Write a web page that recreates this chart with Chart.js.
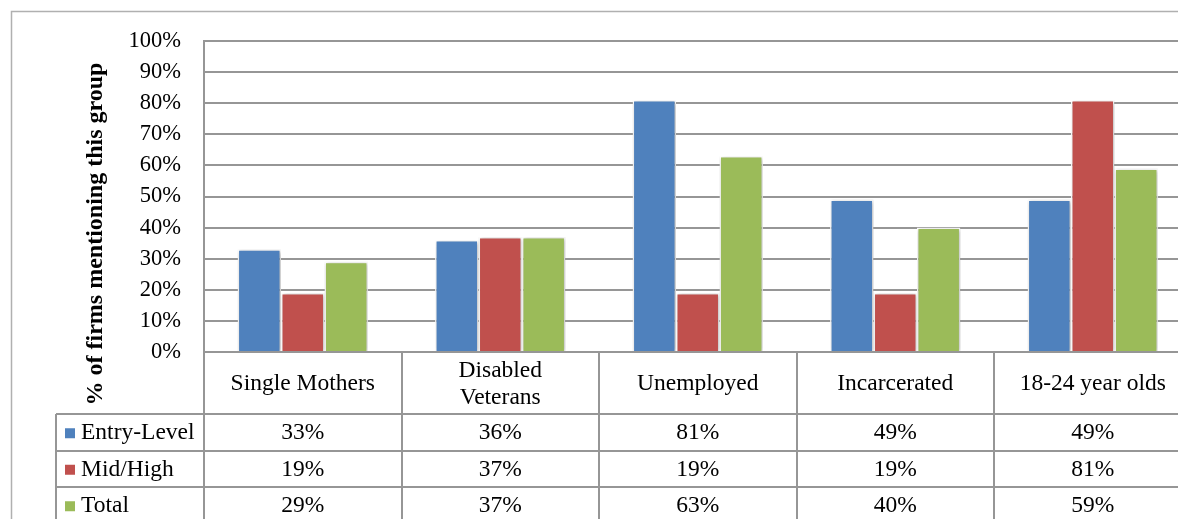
<!DOCTYPE html>
<html>
<head>
<meta charset="utf-8">
<script src="https://cdn.jsdelivr.net/npm/chart.js@4"></script>
<style>
    html, body { margin: 0; padding: 0; background: #fff; overflow: hidden; }
    #wrap { position: absolute; left: 0; top: 0; width: 1200px; height: 519px; }
</style>
</head>
<body>
<div id="wrap"><canvas id="groupChart" width="1200" height="519"></canvas></div>
<script>
// Chart data
const categories = ['Single Mothers', ['Disabled', 'Veterans'], 'Unemployed', 'Incarcerated', '18-24 year olds'];
const seriesNames = ['Entry-Level', 'Mid/High', 'Total'];
const entryLevel = [33, 36, 81, 49, 49];
const midHigh = [19, 37, 19, 19, 81];
const total = [29, 37, 63, 40, 59];
const yTicks = [0, 10, 20, 30, 40, 50, 60, 70, 80, 90, 100];
const yTitle = '% of firms mentioning this group';

const colors = ['#4f81bd', '#c0504d', '#9bbb59'];
const gridColor = '#969696';
const serif = '"Liberation Serif", "Times New Roman", serif';

// soft shadow under the bars, like the Excel original
const barShadow = {
    id: 'barShadow',
    beforeDatasetsDraw(chart) {
        const ctx = chart.ctx;
        ctx.save();
        ctx.shadowColor = 'rgba(0, 0, 0, 0.3)';
        ctx.shadowBlur = 4;
        ctx.shadowOffsetX = 1;
        ctx.shadowOffsetY = 1;
    },
    afterDatasetsDraw(chart) {
        chart.ctx.restore();
    }
};

// outer frame, axis title and the data table under the plot
const dataTable = {
    id: 'dataTable',
    afterDraw(chart) {
        const ctx = chart.ctx;
        const area = chart.chartArea;
        const x = chart.scales.x;
        const half = (x.getPixelForValue(1) - x.getPixelForValue(0)) / 2;
        const rows = [entryLevel, midHigh, total];
        const headTop = area.bottom;
        const headBottom = 414;
        const rowH = 36.5;
        const legendLeft = 56;
        const bottom = chart.height + 20;

        ctx.save();

        // chart frame
        ctx.strokeStyle = '#b0b0b0';
        ctx.lineWidth = 1.5;
        ctx.beginPath();
        ctx.moveTo(11.5, chart.height + 5);
        ctx.lineTo(11.5, 11.5);
        ctx.lineTo(chart.width + 5, 11.5);
        ctx.stroke();

        // table lines
        ctx.strokeStyle = gridColor;
        ctx.lineWidth = 2;
        ctx.beginPath();
        for (let i = 0; i <= categories.length; i++) {
            const px = Math.round(x.getPixelForValue(i) - half);
            ctx.moveTo(px, headTop);
            ctx.lineTo(px, bottom);
        }
        ctx.moveTo(legendLeft, headBottom);
        ctx.lineTo(legendLeft, bottom);
        for (let r = 0; r < rows.length; r++) {
            const py = Math.round(headBottom + r * rowH);
            ctx.moveTo(legendLeft, py);
            ctx.lineTo(area.right, py);
        }
        ctx.stroke();

        // category header
        ctx.fillStyle = '#000';
        ctx.font = '23.5px ' + serif;
        ctx.textAlign = 'center';
        ctx.textBaseline = 'middle';
        const headMid = (headTop + headBottom) / 2 + 1;
        categories.forEach((c, i) => {
            const cx = x.getPixelForValue(i);
            const lines = Array.isArray(c) ? c : [c];
            lines.forEach((ln, k) => {
                ctx.fillText(ln, cx, headMid + (k - (lines.length - 1) / 2) * 27);
            });
        });

        // value rows with legend keys
        rows.forEach((vals, r) => {
            const cy = headBottom + r * rowH + rowH / 2 + 1;
            ctx.fillStyle = colors[r];
            ctx.fillRect(65, cy - 5, 10, 10);
            ctx.fillStyle = '#000';
            ctx.textAlign = 'left';
            ctx.fillText(seriesNames[r], 81, cy);
            ctx.textAlign = 'center';
            vals.forEach((v, i) => {
                ctx.fillText(v + '%', x.getPixelForValue(i), cy);
            });
        });

        // y axis title
        ctx.translate(96, 234);
        ctx.rotate(-Math.PI / 2);
        ctx.font = 'bold 24px ' + serif;
        ctx.fillText(yTitle, 0, 0);

        ctx.restore();
    }
};

const ctx = document.getElementById('groupChart').getContext('2d');

const chart = new Chart(ctx, {
    type: 'bar',
    data: {
        labels: categories.map(c => Array.isArray(c) ? c.join(' ') : c),
        datasets: [entryLevel, midHigh, total].map((d, i) => ({
            label: seriesNames[i],
            data: d,
            backgroundColor: colors[i],
            borderColor: '#ffffff',
            borderWidth: 1.5,
            categoryPercentage: 0.66,
            barPercentage: 1
        }))
    },
    options: {
        responsive: false,
        animation: false,
        devicePixelRatio: 1,
        layout: {
            padding: { top: 41, left: 0, right: 8.5, bottom: 167 }
        },
        plugins: {
            legend: { display: false },
            tooltip: { enabled: false }
        },
        scales: {
            x: {
                display: false
            },
            y: {
                min: 0,
                max: 100,
                afterFit: scale => { scale.width = 204; },
                afterBuildTicks: scale => {
                    scale.ticks = yTicks.map(v => ({ value: v }));
                },
                grid: {
                    color: gridColor,
                    lineWidth: 2,
                    drawTicks: false
                },
                border: {
                    display: true,
                    color: gridColor,
                    width: 2
                },
                ticks: {
                    color: '#000',
                    padding: 23,
                    font: { family: serif, size: 22.5 },
                    callback: v => v + '%'
                }
            }
        }
    },
    plugins: [barShadow, dataTable]
});
</script>
</body>
</html>
